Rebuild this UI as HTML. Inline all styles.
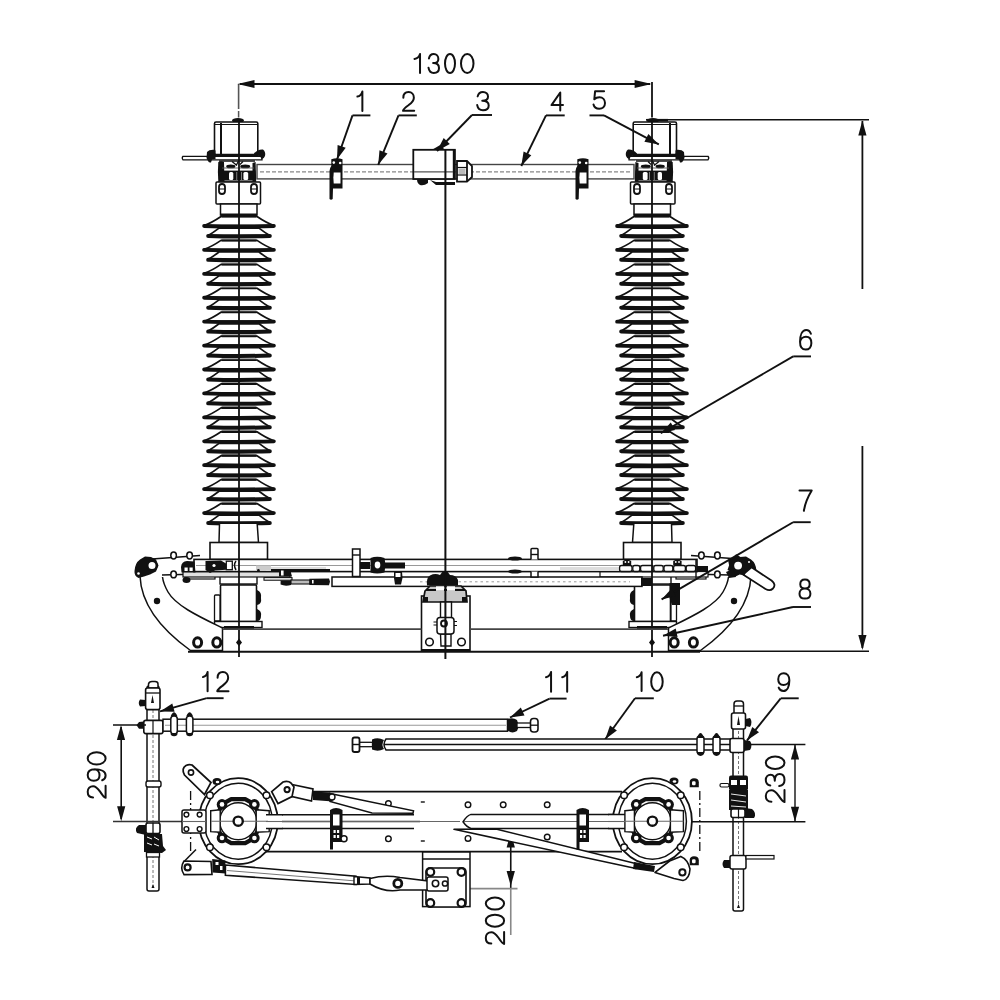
<!DOCTYPE html>
<html><head><meta charset="utf-8"><style>
html,body{margin:0;padding:0;background:#fff;overflow:hidden;}
svg{display:block;}
text{font-family:"Liberation Sans",sans-serif;fill:#111;stroke:#fff;stroke-width:0.6px;}
</style></head><body>
<svg width="1000" height="1000" viewBox="0 0 1000 1000">
<rect width="1000" height="1000" fill="#fff"/>
<g><ellipse cx="238" cy="120.5" rx="6" ry="2.5" fill="#111"/><rect x="214.5" y="122" width="43.3" height="32.5" rx="1.5" fill="#fff" stroke="#111" stroke-width="1.6"/><line x1="221" y1="123" x2="221" y2="154" stroke="#111" stroke-width="2"/><line x1="215" y1="124.5" x2="257" y2="124.5" stroke="#111" stroke-width="1"/><path d="M183,156.3 L262,156.3 L262,159.8 L183,159.8 Q181.5,158 183,156.3 Z" fill="#fff" stroke="#111" stroke-width="1.3"/><line x1="214" y1="156" x2="258" y2="156" stroke="#111" stroke-width="2"/><path d="M207,152 Q209,149.5 214,149.8 L215.5,150.5 L215.5,159 L212,159.5 L211,162.5 Q209,163 208,161 L206.5,158 Z" fill="#111"/><path d="M254,153.5 Q258,149 263,149.5 Q266,152 265,156 Q263.5,159.5 261.5,159 L260,156 L254,155.8 Z" fill="#111"/><rect x="218.8" y="160.5" width="36.8" height="21" fill="#fff"/><line x1="219" y1="161" x2="255" y2="161" stroke="#111" stroke-width="1.3"/><path d="M218.3,162 Q221,160.5 224,162 L224.5,181.5 L218.3,181.5 Q217.5,172 218.3,162 Z" fill="#111"/><path d="M252.5,163 L255.6,162 L256.2,181.5 L252.5,181.5 Z" fill="#111"/><rect x="220" y="170.6" width="35.5" height="10" fill="#111"/><rect x="229" y="172" width="4.3" height="8" rx="1.5" fill="#fff"/><rect x="243.4" y="172" width="4.8" height="8" rx="1.5" fill="#fff"/><rect x="236.3" y="172" width="0.9" height="8" fill="#888"/><rect x="241.0" y="172" width="0.9" height="8" fill="#888"/><ellipse cx="230.8" cy="166.4" rx="4.6" ry="1.9" fill="#111"/><ellipse cx="245.2" cy="166.4" rx="5.0" ry="1.9" fill="#111"/><path d="M232,161.5 L237,165.5 M238.5,161 L236,165.8 M243,161.5 L240,164.5" stroke="#111" stroke-width="1.3" fill="none"/><line x1="222" y1="168" x2="254" y2="168" stroke="#555" stroke-width="0.9"/><line x1="218" y1="182" x2="256" y2="182" stroke="#111" stroke-width="1.4"/><rect x="216" y="182" width="44.5" height="22" rx="1" fill="#fff" stroke="#111" stroke-width="1.5"/><rect x="219" y="184" width="6" height="10" rx="3" fill="#fff" stroke="#111" stroke-width="1.8"/><line x1="219" y1="189" x2="225" y2="189" stroke="#111" stroke-width="1"/><rect x="251" y="184" width="6" height="10" rx="3" fill="#fff" stroke="#111" stroke-width="1.8"/><line x1="251" y1="189" x2="257" y2="189" stroke="#111" stroke-width="1"/><rect x="220.5" y="204" width="36.5" height="11" fill="#fff" stroke="#111" stroke-width="1.5"/><rect x="220.5" y="213.5" width="36.5" height="2.5" fill="#111"/><path d="M221.00,216.50 L257.00,216.50 Q266.30,222.80 273.90,225.50 L204.10,225.50 Q211.71,222.80 221.00,216.50 Z" fill="#fff" stroke="#111" stroke-width="1.7" stroke-linejoin="round"/><path d="M204.10,226.00 Q239.00,227.00 273.90,226.00" fill="none" stroke="#111" stroke-width="3.8" stroke-linecap="round"/><line x1="221.50" y1="216.90" x2="256.50" y2="216.90" stroke="#111" stroke-width="1.4"/><path d="M219.00,228.10 L259.00,228.10 Q264.94,232.70 269.80,235.40 L208.20,235.40 Q213.06,232.70 219.00,228.10 Z" fill="#fff" stroke="#111" stroke-width="1.7" stroke-linejoin="round"/><path d="M208.20,235.90 Q239.00,236.90 269.80,235.90" fill="none" stroke="#111" stroke-width="4.0" stroke-linecap="round"/><line x1="221.50" y1="239.20" x2="256.50" y2="239.20" stroke="#777" stroke-width="1"/><path d="M221.00,240.42 L257.00,240.42 Q266.30,246.72 273.90,249.42 L204.10,249.42 Q211.71,246.72 221.00,240.42 Z" fill="#fff" stroke="#111" stroke-width="1.7" stroke-linejoin="round"/><path d="M204.10,249.92 Q239.00,250.92 273.90,249.92" fill="none" stroke="#111" stroke-width="3.8" stroke-linecap="round"/><line x1="221.50" y1="240.82" x2="256.50" y2="240.82" stroke="#111" stroke-width="1.4"/><path d="M219.00,252.02 L259.00,252.02 Q264.94,256.62 269.80,259.32 L208.20,259.32 Q213.06,256.62 219.00,252.02 Z" fill="#fff" stroke="#111" stroke-width="1.7" stroke-linejoin="round"/><path d="M208.20,259.82 Q239.00,260.82 269.80,259.82" fill="none" stroke="#111" stroke-width="4.0" stroke-linecap="round"/><line x1="221.50" y1="263.12" x2="256.50" y2="263.12" stroke="#777" stroke-width="1"/><path d="M221.00,264.34 L257.00,264.34 Q266.30,270.64 273.90,273.34 L204.10,273.34 Q211.71,270.64 221.00,264.34 Z" fill="#fff" stroke="#111" stroke-width="1.7" stroke-linejoin="round"/><path d="M204.10,273.84 Q239.00,274.84 273.90,273.84" fill="none" stroke="#111" stroke-width="3.8" stroke-linecap="round"/><line x1="221.50" y1="264.74" x2="256.50" y2="264.74" stroke="#111" stroke-width="1.4"/><path d="M219.00,275.94 L259.00,275.94 Q264.94,280.54 269.80,283.24 L208.20,283.24 Q213.06,280.54 219.00,275.94 Z" fill="#fff" stroke="#111" stroke-width="1.7" stroke-linejoin="round"/><path d="M208.20,283.74 Q239.00,284.74 269.80,283.74" fill="none" stroke="#111" stroke-width="4.0" stroke-linecap="round"/><line x1="221.50" y1="287.04" x2="256.50" y2="287.04" stroke="#777" stroke-width="1"/><path d="M221.00,288.26 L257.00,288.26 Q266.30,294.56 273.90,297.26 L204.10,297.26 Q211.71,294.56 221.00,288.26 Z" fill="#fff" stroke="#111" stroke-width="1.7" stroke-linejoin="round"/><path d="M204.10,297.76 Q239.00,298.76 273.90,297.76" fill="none" stroke="#111" stroke-width="3.8" stroke-linecap="round"/><line x1="221.50" y1="288.66" x2="256.50" y2="288.66" stroke="#111" stroke-width="1.4"/><path d="M219.00,299.86 L259.00,299.86 Q264.94,304.46 269.80,307.16 L208.20,307.16 Q213.06,304.46 219.00,299.86 Z" fill="#fff" stroke="#111" stroke-width="1.7" stroke-linejoin="round"/><path d="M208.20,307.66 Q239.00,308.66 269.80,307.66" fill="none" stroke="#111" stroke-width="4.0" stroke-linecap="round"/><line x1="221.50" y1="310.96" x2="256.50" y2="310.96" stroke="#777" stroke-width="1"/><path d="M221.00,312.18 L257.00,312.18 Q266.30,318.48 273.90,321.18 L204.10,321.18 Q211.71,318.48 221.00,312.18 Z" fill="#fff" stroke="#111" stroke-width="1.7" stroke-linejoin="round"/><path d="M204.10,321.68 Q239.00,322.68 273.90,321.68" fill="none" stroke="#111" stroke-width="3.8" stroke-linecap="round"/><line x1="221.50" y1="312.58" x2="256.50" y2="312.58" stroke="#111" stroke-width="1.4"/><path d="M219.00,323.78 L259.00,323.78 Q264.94,328.38 269.80,331.08 L208.20,331.08 Q213.06,328.38 219.00,323.78 Z" fill="#fff" stroke="#111" stroke-width="1.7" stroke-linejoin="round"/><path d="M208.20,331.58 Q239.00,332.58 269.80,331.58" fill="none" stroke="#111" stroke-width="4.0" stroke-linecap="round"/><line x1="221.50" y1="334.88" x2="256.50" y2="334.88" stroke="#777" stroke-width="1"/><path d="M221.00,336.10 L257.00,336.10 Q266.30,342.40 273.90,345.10 L204.10,345.10 Q211.71,342.40 221.00,336.10 Z" fill="#fff" stroke="#111" stroke-width="1.7" stroke-linejoin="round"/><path d="M204.10,345.60 Q239.00,346.60 273.90,345.60" fill="none" stroke="#111" stroke-width="3.8" stroke-linecap="round"/><line x1="221.50" y1="336.50" x2="256.50" y2="336.50" stroke="#111" stroke-width="1.4"/><path d="M219.00,347.70 L259.00,347.70 Q264.94,352.30 269.80,355.00 L208.20,355.00 Q213.06,352.30 219.00,347.70 Z" fill="#fff" stroke="#111" stroke-width="1.7" stroke-linejoin="round"/><path d="M208.20,355.50 Q239.00,356.50 269.80,355.50" fill="none" stroke="#111" stroke-width="4.0" stroke-linecap="round"/><line x1="221.50" y1="358.80" x2="256.50" y2="358.80" stroke="#777" stroke-width="1"/><path d="M221.00,360.02 L257.00,360.02 Q266.30,366.32 273.90,369.02 L204.10,369.02 Q211.71,366.32 221.00,360.02 Z" fill="#fff" stroke="#111" stroke-width="1.7" stroke-linejoin="round"/><path d="M204.10,369.52 Q239.00,370.52 273.90,369.52" fill="none" stroke="#111" stroke-width="3.8" stroke-linecap="round"/><line x1="221.50" y1="360.42" x2="256.50" y2="360.42" stroke="#111" stroke-width="1.4"/><path d="M219.00,371.62 L259.00,371.62 Q264.94,376.22 269.80,378.92 L208.20,378.92 Q213.06,376.22 219.00,371.62 Z" fill="#fff" stroke="#111" stroke-width="1.7" stroke-linejoin="round"/><path d="M208.20,379.42 Q239.00,380.42 269.80,379.42" fill="none" stroke="#111" stroke-width="4.0" stroke-linecap="round"/><line x1="221.50" y1="382.72" x2="256.50" y2="382.72" stroke="#777" stroke-width="1"/><path d="M221.00,383.94 L257.00,383.94 Q266.30,390.24 273.90,392.94 L204.10,392.94 Q211.71,390.24 221.00,383.94 Z" fill="#fff" stroke="#111" stroke-width="1.7" stroke-linejoin="round"/><path d="M204.10,393.44 Q239.00,394.44 273.90,393.44" fill="none" stroke="#111" stroke-width="3.8" stroke-linecap="round"/><line x1="221.50" y1="384.34" x2="256.50" y2="384.34" stroke="#111" stroke-width="1.4"/><path d="M219.00,395.54 L259.00,395.54 Q264.94,400.14 269.80,402.84 L208.20,402.84 Q213.06,400.14 219.00,395.54 Z" fill="#fff" stroke="#111" stroke-width="1.7" stroke-linejoin="round"/><path d="M208.20,403.34 Q239.00,404.34 269.80,403.34" fill="none" stroke="#111" stroke-width="4.0" stroke-linecap="round"/><line x1="221.50" y1="406.64" x2="256.50" y2="406.64" stroke="#777" stroke-width="1"/><path d="M221.00,407.86 L257.00,407.86 Q266.30,414.16 273.90,416.86 L204.10,416.86 Q211.71,414.16 221.00,407.86 Z" fill="#fff" stroke="#111" stroke-width="1.7" stroke-linejoin="round"/><path d="M204.10,417.36 Q239.00,418.36 273.90,417.36" fill="none" stroke="#111" stroke-width="3.8" stroke-linecap="round"/><line x1="221.50" y1="408.26" x2="256.50" y2="408.26" stroke="#111" stroke-width="1.4"/><path d="M219.00,419.46 L259.00,419.46 Q264.94,424.06 269.80,426.76 L208.20,426.76 Q213.06,424.06 219.00,419.46 Z" fill="#fff" stroke="#111" stroke-width="1.7" stroke-linejoin="round"/><path d="M208.20,427.26 Q239.00,428.26 269.80,427.26" fill="none" stroke="#111" stroke-width="4.0" stroke-linecap="round"/><line x1="221.50" y1="430.56" x2="256.50" y2="430.56" stroke="#777" stroke-width="1"/><path d="M221.00,431.78 L257.00,431.78 Q266.30,438.08 273.90,440.78 L204.10,440.78 Q211.71,438.08 221.00,431.78 Z" fill="#fff" stroke="#111" stroke-width="1.7" stroke-linejoin="round"/><path d="M204.10,441.28 Q239.00,442.28 273.90,441.28" fill="none" stroke="#111" stroke-width="3.8" stroke-linecap="round"/><line x1="221.50" y1="432.18" x2="256.50" y2="432.18" stroke="#111" stroke-width="1.4"/><path d="M219.00,443.38 L259.00,443.38 Q264.94,447.98 269.80,450.68 L208.20,450.68 Q213.06,447.98 219.00,443.38 Z" fill="#fff" stroke="#111" stroke-width="1.7" stroke-linejoin="round"/><path d="M208.20,451.18 Q239.00,452.18 269.80,451.18" fill="none" stroke="#111" stroke-width="4.0" stroke-linecap="round"/><line x1="221.50" y1="454.48" x2="256.50" y2="454.48" stroke="#777" stroke-width="1"/><path d="M221.00,455.70 L257.00,455.70 Q266.30,462.00 273.90,464.70 L204.10,464.70 Q211.71,462.00 221.00,455.70 Z" fill="#fff" stroke="#111" stroke-width="1.7" stroke-linejoin="round"/><path d="M204.10,465.20 Q239.00,466.20 273.90,465.20" fill="none" stroke="#111" stroke-width="3.8" stroke-linecap="round"/><line x1="221.50" y1="456.10" x2="256.50" y2="456.10" stroke="#111" stroke-width="1.4"/><path d="M219.00,467.30 L259.00,467.30 Q264.94,471.90 269.80,474.60 L208.20,474.60 Q213.06,471.90 219.00,467.30 Z" fill="#fff" stroke="#111" stroke-width="1.7" stroke-linejoin="round"/><path d="M208.20,475.10 Q239.00,476.10 269.80,475.10" fill="none" stroke="#111" stroke-width="4.0" stroke-linecap="round"/><line x1="221.50" y1="478.40" x2="256.50" y2="478.40" stroke="#777" stroke-width="1"/><path d="M221.00,479.62 L257.00,479.62 Q266.30,485.92 273.90,488.62 L204.10,488.62 Q211.71,485.92 221.00,479.62 Z" fill="#fff" stroke="#111" stroke-width="1.7" stroke-linejoin="round"/><path d="M204.10,489.12 Q239.00,490.12 273.90,489.12" fill="none" stroke="#111" stroke-width="3.8" stroke-linecap="round"/><line x1="221.50" y1="480.02" x2="256.50" y2="480.02" stroke="#111" stroke-width="1.4"/><path d="M219.00,491.22 L259.00,491.22 Q264.94,495.82 269.80,498.52 L208.20,498.52 Q213.06,495.82 219.00,491.22 Z" fill="#fff" stroke="#111" stroke-width="1.7" stroke-linejoin="round"/><path d="M208.20,499.02 Q239.00,500.02 269.80,499.02" fill="none" stroke="#111" stroke-width="4.0" stroke-linecap="round"/><line x1="221.50" y1="502.32" x2="256.50" y2="502.32" stroke="#777" stroke-width="1"/><path d="M221.00,503.54 L257.00,503.54 Q266.30,509.84 273.90,512.54 L204.10,512.54 Q211.71,509.84 221.00,503.54 Z" fill="#fff" stroke="#111" stroke-width="1.7" stroke-linejoin="round"/><path d="M204.10,513.04 Q239.00,514.04 273.90,513.04" fill="none" stroke="#111" stroke-width="3.8" stroke-linecap="round"/><line x1="221.50" y1="503.94" x2="256.50" y2="503.94" stroke="#111" stroke-width="1.4"/><path d="M219.00,515.14 L259.00,515.14 Q264.94,519.74 269.80,522.44 L208.20,522.44 Q213.06,519.74 219.00,515.14 Z" fill="#fff" stroke="#111" stroke-width="1.7" stroke-linejoin="round"/><path d="M208.20,522.94 Q239.00,523.94 269.80,522.94" fill="none" stroke="#111" stroke-width="4.0" stroke-linecap="round"/><line x1="221.50" y1="526.24" x2="256.50" y2="526.24" stroke="#777" stroke-width="1"/><path d="M219.5,524 L219,542.5 L258.5,542.5 L257.2,524" fill="#fff" stroke="#111" stroke-width="1.5"/><rect x="210" y="542.5" width="57.5" height="17" fill="#fff" stroke="#111" stroke-width="1.6"/><rect x="220" y="576" width="37" height="8" fill="#fff" stroke="#111" stroke-width="1.4"/><rect x="220.5" y="585" width="36" height="36.5" rx="1" fill="#fff" stroke="#111" stroke-width="1.6"/><rect x="214.5" y="595" width="5.5" height="26" rx="1" fill="#fff" stroke="#111" stroke-width="1.3"/><path d="M257,590 Q262,592 261,598 Q262,604 257,605 Z M257,609 Q262,611 261,616 Q261,621 257,621 Z" fill="#111"/><rect x="214.5" y="621.5" width="47.5" height="6" fill="#fff" stroke="#111" stroke-width="1.4"/><rect x="224" y="626" width="30" height="3" fill="#111"/><path d="M140,576 C141,600 155,625 190.5,650.5 L222.5,650.5 L222.5,628 C200,617 176,606 168,592 C164,585 163,581 162.5,577" fill="#fff" stroke="#111" stroke-width="1.5"/><path d="M134.5,571 Q135,563 140,559.5 L145,556.5 L151,557 L156,559.5 L158.5,565.5 L156,571.5 L150,574.5 L144,576.5 L138.5,578 Q134,576 134.5,571 Z" fill="#111"/><circle cx="152" cy="565.6" r="4.6" fill="#fff" stroke="#111" stroke-width="2.2"/><circle cx="138.5" cy="573.5" r="1.3" fill="#fff"/><circle cx="157" cy="601" r="3.2" fill="#111"/><ellipse cx="197.6" cy="642.4" rx="4.0" ry="4.6" fill="#fff" stroke="#111" stroke-width="3"/><ellipse cx="216.8" cy="642.4" rx="4.0" ry="4.6" fill="#fff" stroke="#111" stroke-width="3"/><path d="M152,559 L200,555.5 M162,575 L200,574" stroke="#111" stroke-width="1.3" fill="none"/><ellipse cx="173.6" cy="555.5" rx="2.8" ry="3.4" fill="#fff" stroke="#111" stroke-width="1.5"/><ellipse cx="189.6" cy="555.5" rx="2.8" ry="3.4" fill="#fff" stroke="#111" stroke-width="1.5"/><ellipse cx="173.6" cy="574.4" rx="2.8" ry="3.4" fill="#fff" stroke="#111" stroke-width="1.5"/><ellipse cx="189.6" cy="574.4" rx="2.8" ry="3.4" fill="#fff" stroke="#111" stroke-width="1.5"/><path d="M183,566 L228,566 L228,573 L183,573 Z" fill="#111"/><rect x="185" y="575" width="30" height="4" fill="#fff" stroke="#111" stroke-width="1.2"/></g><g transform="translate(891,0) scale(-1,1)"><ellipse cx="238" cy="120.5" rx="6" ry="2.5" fill="#111"/><rect x="214.5" y="122" width="43.3" height="32.5" rx="1.5" fill="#fff" stroke="#111" stroke-width="1.6"/><line x1="221" y1="123" x2="221" y2="154" stroke="#111" stroke-width="2"/><line x1="215" y1="124.5" x2="257" y2="124.5" stroke="#111" stroke-width="1"/><path d="M183,156.3 L262,156.3 L262,159.8 L183,159.8 Q181.5,158 183,156.3 Z" fill="#fff" stroke="#111" stroke-width="1.3"/><line x1="214" y1="156" x2="258" y2="156" stroke="#111" stroke-width="2"/><path d="M207,152 Q209,149.5 214,149.8 L215.5,150.5 L215.5,159 L212,159.5 L211,162.5 Q209,163 208,161 L206.5,158 Z" fill="#111"/><path d="M254,153.5 Q258,149 263,149.5 Q266,152 265,156 Q263.5,159.5 261.5,159 L260,156 L254,155.8 Z" fill="#111"/><rect x="218.8" y="160.5" width="36.8" height="21" fill="#fff"/><line x1="219" y1="161" x2="255" y2="161" stroke="#111" stroke-width="1.3"/><path d="M218.3,162 Q221,160.5 224,162 L224.5,181.5 L218.3,181.5 Q217.5,172 218.3,162 Z" fill="#111"/><path d="M252.5,163 L255.6,162 L256.2,181.5 L252.5,181.5 Z" fill="#111"/><rect x="220" y="170.6" width="35.5" height="10" fill="#111"/><rect x="229" y="172" width="4.3" height="8" rx="1.5" fill="#fff"/><rect x="243.4" y="172" width="4.8" height="8" rx="1.5" fill="#fff"/><rect x="236.3" y="172" width="0.9" height="8" fill="#888"/><rect x="241.0" y="172" width="0.9" height="8" fill="#888"/><ellipse cx="230.8" cy="166.4" rx="4.6" ry="1.9" fill="#111"/><ellipse cx="245.2" cy="166.4" rx="5.0" ry="1.9" fill="#111"/><path d="M232,161.5 L237,165.5 M238.5,161 L236,165.8 M243,161.5 L240,164.5" stroke="#111" stroke-width="1.3" fill="none"/><line x1="222" y1="168" x2="254" y2="168" stroke="#555" stroke-width="0.9"/><line x1="218" y1="182" x2="256" y2="182" stroke="#111" stroke-width="1.4"/><rect x="216" y="182" width="44.5" height="22" rx="1" fill="#fff" stroke="#111" stroke-width="1.5"/><rect x="219" y="184" width="6" height="10" rx="3" fill="#fff" stroke="#111" stroke-width="1.8"/><line x1="219" y1="189" x2="225" y2="189" stroke="#111" stroke-width="1"/><rect x="251" y="184" width="6" height="10" rx="3" fill="#fff" stroke="#111" stroke-width="1.8"/><line x1="251" y1="189" x2="257" y2="189" stroke="#111" stroke-width="1"/><rect x="220.5" y="204" width="36.5" height="11" fill="#fff" stroke="#111" stroke-width="1.5"/><rect x="220.5" y="213.5" width="36.5" height="2.5" fill="#111"/><path d="M221.00,216.50 L257.00,216.50 Q266.30,222.80 273.90,225.50 L204.10,225.50 Q211.71,222.80 221.00,216.50 Z" fill="#fff" stroke="#111" stroke-width="1.7" stroke-linejoin="round"/><path d="M204.10,226.00 Q239.00,227.00 273.90,226.00" fill="none" stroke="#111" stroke-width="3.8" stroke-linecap="round"/><line x1="221.50" y1="216.90" x2="256.50" y2="216.90" stroke="#111" stroke-width="1.4"/><path d="M219.00,228.10 L259.00,228.10 Q264.94,232.70 269.80,235.40 L208.20,235.40 Q213.06,232.70 219.00,228.10 Z" fill="#fff" stroke="#111" stroke-width="1.7" stroke-linejoin="round"/><path d="M208.20,235.90 Q239.00,236.90 269.80,235.90" fill="none" stroke="#111" stroke-width="4.0" stroke-linecap="round"/><line x1="221.50" y1="239.20" x2="256.50" y2="239.20" stroke="#777" stroke-width="1"/><path d="M221.00,240.42 L257.00,240.42 Q266.30,246.72 273.90,249.42 L204.10,249.42 Q211.71,246.72 221.00,240.42 Z" fill="#fff" stroke="#111" stroke-width="1.7" stroke-linejoin="round"/><path d="M204.10,249.92 Q239.00,250.92 273.90,249.92" fill="none" stroke="#111" stroke-width="3.8" stroke-linecap="round"/><line x1="221.50" y1="240.82" x2="256.50" y2="240.82" stroke="#111" stroke-width="1.4"/><path d="M219.00,252.02 L259.00,252.02 Q264.94,256.62 269.80,259.32 L208.20,259.32 Q213.06,256.62 219.00,252.02 Z" fill="#fff" stroke="#111" stroke-width="1.7" stroke-linejoin="round"/><path d="M208.20,259.82 Q239.00,260.82 269.80,259.82" fill="none" stroke="#111" stroke-width="4.0" stroke-linecap="round"/><line x1="221.50" y1="263.12" x2="256.50" y2="263.12" stroke="#777" stroke-width="1"/><path d="M221.00,264.34 L257.00,264.34 Q266.30,270.64 273.90,273.34 L204.10,273.34 Q211.71,270.64 221.00,264.34 Z" fill="#fff" stroke="#111" stroke-width="1.7" stroke-linejoin="round"/><path d="M204.10,273.84 Q239.00,274.84 273.90,273.84" fill="none" stroke="#111" stroke-width="3.8" stroke-linecap="round"/><line x1="221.50" y1="264.74" x2="256.50" y2="264.74" stroke="#111" stroke-width="1.4"/><path d="M219.00,275.94 L259.00,275.94 Q264.94,280.54 269.80,283.24 L208.20,283.24 Q213.06,280.54 219.00,275.94 Z" fill="#fff" stroke="#111" stroke-width="1.7" stroke-linejoin="round"/><path d="M208.20,283.74 Q239.00,284.74 269.80,283.74" fill="none" stroke="#111" stroke-width="4.0" stroke-linecap="round"/><line x1="221.50" y1="287.04" x2="256.50" y2="287.04" stroke="#777" stroke-width="1"/><path d="M221.00,288.26 L257.00,288.26 Q266.30,294.56 273.90,297.26 L204.10,297.26 Q211.71,294.56 221.00,288.26 Z" fill="#fff" stroke="#111" stroke-width="1.7" stroke-linejoin="round"/><path d="M204.10,297.76 Q239.00,298.76 273.90,297.76" fill="none" stroke="#111" stroke-width="3.8" stroke-linecap="round"/><line x1="221.50" y1="288.66" x2="256.50" y2="288.66" stroke="#111" stroke-width="1.4"/><path d="M219.00,299.86 L259.00,299.86 Q264.94,304.46 269.80,307.16 L208.20,307.16 Q213.06,304.46 219.00,299.86 Z" fill="#fff" stroke="#111" stroke-width="1.7" stroke-linejoin="round"/><path d="M208.20,307.66 Q239.00,308.66 269.80,307.66" fill="none" stroke="#111" stroke-width="4.0" stroke-linecap="round"/><line x1="221.50" y1="310.96" x2="256.50" y2="310.96" stroke="#777" stroke-width="1"/><path d="M221.00,312.18 L257.00,312.18 Q266.30,318.48 273.90,321.18 L204.10,321.18 Q211.71,318.48 221.00,312.18 Z" fill="#fff" stroke="#111" stroke-width="1.7" stroke-linejoin="round"/><path d="M204.10,321.68 Q239.00,322.68 273.90,321.68" fill="none" stroke="#111" stroke-width="3.8" stroke-linecap="round"/><line x1="221.50" y1="312.58" x2="256.50" y2="312.58" stroke="#111" stroke-width="1.4"/><path d="M219.00,323.78 L259.00,323.78 Q264.94,328.38 269.80,331.08 L208.20,331.08 Q213.06,328.38 219.00,323.78 Z" fill="#fff" stroke="#111" stroke-width="1.7" stroke-linejoin="round"/><path d="M208.20,331.58 Q239.00,332.58 269.80,331.58" fill="none" stroke="#111" stroke-width="4.0" stroke-linecap="round"/><line x1="221.50" y1="334.88" x2="256.50" y2="334.88" stroke="#777" stroke-width="1"/><path d="M221.00,336.10 L257.00,336.10 Q266.30,342.40 273.90,345.10 L204.10,345.10 Q211.71,342.40 221.00,336.10 Z" fill="#fff" stroke="#111" stroke-width="1.7" stroke-linejoin="round"/><path d="M204.10,345.60 Q239.00,346.60 273.90,345.60" fill="none" stroke="#111" stroke-width="3.8" stroke-linecap="round"/><line x1="221.50" y1="336.50" x2="256.50" y2="336.50" stroke="#111" stroke-width="1.4"/><path d="M219.00,347.70 L259.00,347.70 Q264.94,352.30 269.80,355.00 L208.20,355.00 Q213.06,352.30 219.00,347.70 Z" fill="#fff" stroke="#111" stroke-width="1.7" stroke-linejoin="round"/><path d="M208.20,355.50 Q239.00,356.50 269.80,355.50" fill="none" stroke="#111" stroke-width="4.0" stroke-linecap="round"/><line x1="221.50" y1="358.80" x2="256.50" y2="358.80" stroke="#777" stroke-width="1"/><path d="M221.00,360.02 L257.00,360.02 Q266.30,366.32 273.90,369.02 L204.10,369.02 Q211.71,366.32 221.00,360.02 Z" fill="#fff" stroke="#111" stroke-width="1.7" stroke-linejoin="round"/><path d="M204.10,369.52 Q239.00,370.52 273.90,369.52" fill="none" stroke="#111" stroke-width="3.8" stroke-linecap="round"/><line x1="221.50" y1="360.42" x2="256.50" y2="360.42" stroke="#111" stroke-width="1.4"/><path d="M219.00,371.62 L259.00,371.62 Q264.94,376.22 269.80,378.92 L208.20,378.92 Q213.06,376.22 219.00,371.62 Z" fill="#fff" stroke="#111" stroke-width="1.7" stroke-linejoin="round"/><path d="M208.20,379.42 Q239.00,380.42 269.80,379.42" fill="none" stroke="#111" stroke-width="4.0" stroke-linecap="round"/><line x1="221.50" y1="382.72" x2="256.50" y2="382.72" stroke="#777" stroke-width="1"/><path d="M221.00,383.94 L257.00,383.94 Q266.30,390.24 273.90,392.94 L204.10,392.94 Q211.71,390.24 221.00,383.94 Z" fill="#fff" stroke="#111" stroke-width="1.7" stroke-linejoin="round"/><path d="M204.10,393.44 Q239.00,394.44 273.90,393.44" fill="none" stroke="#111" stroke-width="3.8" stroke-linecap="round"/><line x1="221.50" y1="384.34" x2="256.50" y2="384.34" stroke="#111" stroke-width="1.4"/><path d="M219.00,395.54 L259.00,395.54 Q264.94,400.14 269.80,402.84 L208.20,402.84 Q213.06,400.14 219.00,395.54 Z" fill="#fff" stroke="#111" stroke-width="1.7" stroke-linejoin="round"/><path d="M208.20,403.34 Q239.00,404.34 269.80,403.34" fill="none" stroke="#111" stroke-width="4.0" stroke-linecap="round"/><line x1="221.50" y1="406.64" x2="256.50" y2="406.64" stroke="#777" stroke-width="1"/><path d="M221.00,407.86 L257.00,407.86 Q266.30,414.16 273.90,416.86 L204.10,416.86 Q211.71,414.16 221.00,407.86 Z" fill="#fff" stroke="#111" stroke-width="1.7" stroke-linejoin="round"/><path d="M204.10,417.36 Q239.00,418.36 273.90,417.36" fill="none" stroke="#111" stroke-width="3.8" stroke-linecap="round"/><line x1="221.50" y1="408.26" x2="256.50" y2="408.26" stroke="#111" stroke-width="1.4"/><path d="M219.00,419.46 L259.00,419.46 Q264.94,424.06 269.80,426.76 L208.20,426.76 Q213.06,424.06 219.00,419.46 Z" fill="#fff" stroke="#111" stroke-width="1.7" stroke-linejoin="round"/><path d="M208.20,427.26 Q239.00,428.26 269.80,427.26" fill="none" stroke="#111" stroke-width="4.0" stroke-linecap="round"/><line x1="221.50" y1="430.56" x2="256.50" y2="430.56" stroke="#777" stroke-width="1"/><path d="M221.00,431.78 L257.00,431.78 Q266.30,438.08 273.90,440.78 L204.10,440.78 Q211.71,438.08 221.00,431.78 Z" fill="#fff" stroke="#111" stroke-width="1.7" stroke-linejoin="round"/><path d="M204.10,441.28 Q239.00,442.28 273.90,441.28" fill="none" stroke="#111" stroke-width="3.8" stroke-linecap="round"/><line x1="221.50" y1="432.18" x2="256.50" y2="432.18" stroke="#111" stroke-width="1.4"/><path d="M219.00,443.38 L259.00,443.38 Q264.94,447.98 269.80,450.68 L208.20,450.68 Q213.06,447.98 219.00,443.38 Z" fill="#fff" stroke="#111" stroke-width="1.7" stroke-linejoin="round"/><path d="M208.20,451.18 Q239.00,452.18 269.80,451.18" fill="none" stroke="#111" stroke-width="4.0" stroke-linecap="round"/><line x1="221.50" y1="454.48" x2="256.50" y2="454.48" stroke="#777" stroke-width="1"/><path d="M221.00,455.70 L257.00,455.70 Q266.30,462.00 273.90,464.70 L204.10,464.70 Q211.71,462.00 221.00,455.70 Z" fill="#fff" stroke="#111" stroke-width="1.7" stroke-linejoin="round"/><path d="M204.10,465.20 Q239.00,466.20 273.90,465.20" fill="none" stroke="#111" stroke-width="3.8" stroke-linecap="round"/><line x1="221.50" y1="456.10" x2="256.50" y2="456.10" stroke="#111" stroke-width="1.4"/><path d="M219.00,467.30 L259.00,467.30 Q264.94,471.90 269.80,474.60 L208.20,474.60 Q213.06,471.90 219.00,467.30 Z" fill="#fff" stroke="#111" stroke-width="1.7" stroke-linejoin="round"/><path d="M208.20,475.10 Q239.00,476.10 269.80,475.10" fill="none" stroke="#111" stroke-width="4.0" stroke-linecap="round"/><line x1="221.50" y1="478.40" x2="256.50" y2="478.40" stroke="#777" stroke-width="1"/><path d="M221.00,479.62 L257.00,479.62 Q266.30,485.92 273.90,488.62 L204.10,488.62 Q211.71,485.92 221.00,479.62 Z" fill="#fff" stroke="#111" stroke-width="1.7" stroke-linejoin="round"/><path d="M204.10,489.12 Q239.00,490.12 273.90,489.12" fill="none" stroke="#111" stroke-width="3.8" stroke-linecap="round"/><line x1="221.50" y1="480.02" x2="256.50" y2="480.02" stroke="#111" stroke-width="1.4"/><path d="M219.00,491.22 L259.00,491.22 Q264.94,495.82 269.80,498.52 L208.20,498.52 Q213.06,495.82 219.00,491.22 Z" fill="#fff" stroke="#111" stroke-width="1.7" stroke-linejoin="round"/><path d="M208.20,499.02 Q239.00,500.02 269.80,499.02" fill="none" stroke="#111" stroke-width="4.0" stroke-linecap="round"/><line x1="221.50" y1="502.32" x2="256.50" y2="502.32" stroke="#777" stroke-width="1"/><path d="M221.00,503.54 L257.00,503.54 Q266.30,509.84 273.90,512.54 L204.10,512.54 Q211.71,509.84 221.00,503.54 Z" fill="#fff" stroke="#111" stroke-width="1.7" stroke-linejoin="round"/><path d="M204.10,513.04 Q239.00,514.04 273.90,513.04" fill="none" stroke="#111" stroke-width="3.8" stroke-linecap="round"/><line x1="221.50" y1="503.94" x2="256.50" y2="503.94" stroke="#111" stroke-width="1.4"/><path d="M219.00,515.14 L259.00,515.14 Q264.94,519.74 269.80,522.44 L208.20,522.44 Q213.06,519.74 219.00,515.14 Z" fill="#fff" stroke="#111" stroke-width="1.7" stroke-linejoin="round"/><path d="M208.20,522.94 Q239.00,523.94 269.80,522.94" fill="none" stroke="#111" stroke-width="4.0" stroke-linecap="round"/><line x1="221.50" y1="526.24" x2="256.50" y2="526.24" stroke="#777" stroke-width="1"/><path d="M219.5,524 L219,542.5 L258.5,542.5 L257.2,524" fill="#fff" stroke="#111" stroke-width="1.5"/><rect x="210" y="542.5" width="57.5" height="17" fill="#fff" stroke="#111" stroke-width="1.6"/><rect x="220" y="576" width="37" height="8" fill="#fff" stroke="#111" stroke-width="1.4"/><rect x="220.5" y="585" width="36" height="36.5" rx="1" fill="#fff" stroke="#111" stroke-width="1.6"/><rect x="214.5" y="595" width="5.5" height="26" rx="1" fill="#fff" stroke="#111" stroke-width="1.3"/><path d="M257,590 Q262,592 261,598 Q262,604 257,605 Z M257,609 Q262,611 261,616 Q261,621 257,621 Z" fill="#111"/><rect x="214.5" y="621.5" width="47.5" height="6" fill="#fff" stroke="#111" stroke-width="1.4"/><rect x="224" y="626" width="30" height="3" fill="#111"/><path d="M140,576 C141,600 155,625 190.5,650.5 L222.5,650.5 L222.5,628 C200,617 176,606 168,592 C164,585 163,581 162.5,577" fill="#fff" stroke="#111" stroke-width="1.5"/><path d="M134.5,571 Q135,563 140,559.5 L145,556.5 L151,557 L156,559.5 L158.5,565.5 L156,571.5 L150,574.5 L144,576.5 L138.5,578 Q134,576 134.5,571 Z" fill="#111"/><circle cx="152" cy="565.6" r="4.6" fill="#fff" stroke="#111" stroke-width="2.2"/><circle cx="138.5" cy="573.5" r="1.3" fill="#fff"/><circle cx="157" cy="601" r="3.2" fill="#111"/><ellipse cx="197.6" cy="642.4" rx="4.0" ry="4.6" fill="#fff" stroke="#111" stroke-width="3"/><ellipse cx="216.8" cy="642.4" rx="4.0" ry="4.6" fill="#fff" stroke="#111" stroke-width="3"/><path d="M152,559 L200,555.5 M162,575 L200,574" stroke="#111" stroke-width="1.3" fill="none"/><ellipse cx="173.6" cy="555.5" rx="2.8" ry="3.4" fill="#fff" stroke="#111" stroke-width="1.5"/><ellipse cx="189.6" cy="555.5" rx="2.8" ry="3.4" fill="#fff" stroke="#111" stroke-width="1.5"/><ellipse cx="173.6" cy="574.4" rx="2.8" ry="3.4" fill="#fff" stroke="#111" stroke-width="1.5"/><ellipse cx="189.6" cy="574.4" rx="2.8" ry="3.4" fill="#fff" stroke="#111" stroke-width="1.5"/><path d="M183,566 L228,566 L228,573 L183,573 Z" fill="#111"/><rect x="185" y="575" width="30" height="4" fill="#fff" stroke="#111" stroke-width="1.2"/></g><line x1="238.6" y1="84" x2="238.6" y2="109" stroke="#555" stroke-width="1.6" /><line x1="238.6" y1="111" x2="238.6" y2="117.5" stroke="#555" stroke-width="1.5" /><line x1="652" y1="82" x2="652" y2="117.5" stroke="#111" stroke-width="1.8" /><rect x="257" y="164.5" width="377" height="14.4" fill="#fff" stroke="#444" stroke-width="1.4"/><line x1="260" y1="171.9" x2="632" y2="171.9" stroke="#888" stroke-width="1.1" stroke-dasharray="4,2"/><rect x="413.3" y="149.8" width="41.6" height="29.2" fill="#fff" stroke="#111" stroke-width="1.8"/><line x1="454" y1="150" x2="454" y2="179" stroke="#111" stroke-width="2.4" /><line x1="414" y1="171.9" x2="453" y2="171.9" stroke="#555" stroke-width="1.2" /><path d="M417,179.5 L428,179.5 L428,183 Q424,186 420,185 Q417,183 417,179.5 Z" fill="#111"/><path d="M430,180 L436,182 L455,182 L455,185 L436,185 Z" fill="#111"/><path d="M442,144 L444,149.8 L432,149.8 Z" fill="#111"/><path d="M457,161 L467,161 L472,166 L472,177 L467,181.6 L457,181.6 Z" fill="#fff" stroke="#111" stroke-width="1.8"/><line x1="467" y1="161" x2="467" y2="181.6" stroke="#111" stroke-width="1.8" /><line x1="457" y1="167.5" x2="467" y2="167.5" stroke="#111" stroke-width="1.2" /><line x1="457" y1="175" x2="467" y2="175" stroke="#111" stroke-width="1.2" /><rect x="458.5" y="168.5" width="7" height="5.5" fill="#bbb"/><path d="M331.3,159.3 Q337.0,157.2 342.5,159.3 L342.5,188.5 L333.0,188.5 L332.7,199 Q331.0,200.5 329.5,199 L329.5,171 Q330.0,167.5 331.3,166 Z" fill="#111"/><path d="M333.7,172.5 L340.5,172.5 L340.5,183.6 L333.7,183.6 Q333.0,178 333.7,172.5 Z" fill="#fff"/><circle cx="333.8" cy="162.6" r="1.3" fill="#fff"/><circle cx="340.2" cy="163" r="1.3" fill="#fff"/><path d="M577.3,159.3 Q583.0,157.2 588.5,159.3 L588.5,188.5 L579.0,188.5 L578.7,199 Q577.0,200.5 575.5,199 L575.5,171 Q576.0,167.5 577.3,166 Z" fill="#111"/><path d="M579.7,172.5 L586.5,172.5 L586.5,183.6 L579.7,183.6 Q579.0,178 579.7,172.5 Z" fill="#fff"/><circle cx="579.8" cy="162.6" r="1.3" fill="#fff"/><circle cx="586.2" cy="163" r="1.3" fill="#fff"/><rect x="183" y="571.5" width="107" height="5.5" fill="#e0e0e0" stroke="#111" stroke-width="1.2"/><rect x="600" y="571.5" width="108" height="5.5" fill="#fff" stroke="#111" stroke-width="1.2"/><rect x="194" y="559.4" width="503" height="12.2" fill="#fff" stroke="#111" stroke-width="1.6"/><line x1="196" y1="565.5" x2="695" y2="565.5" stroke="#999" stroke-width="1" /><rect x="266" y="567" width="60" height="4" fill="#ddd"/><rect x="560" y="567" width="60" height="4" fill="#ddd"/><rect x="332" y="577" width="310" height="9.4" fill="#fff" stroke="#111" stroke-width="1.5"/><line x1="420" y1="581.8" x2="630" y2="581.8" stroke="#999" stroke-width="1" stroke-dasharray="2.5,3"/><rect x="256" y="565.5" width="15" height="5" fill="#ccc"/><circle cx="258.4" cy="570.2" r="1.3" fill="#111"/><line x1="271" y1="570.2" x2="330" y2="570.2" stroke="#111" stroke-width="2.2" /><path d="M279,569 L290,569 L292,576.6 L279,576.6 Z" fill="#111"/><rect x="281" y="570.5" width="2.6" height="5" fill="#fff"/><rect x="264" y="577.6" width="28" height="2.6" fill="#fff" stroke="#111" stroke-width="1.1"/><path d="M280.6,580.4 L291,580.4 L291,585 Q285,586.5 280.6,584.5 Z" fill="#111"/><rect x="291" y="580" width="19" height="4" fill="#bbb" stroke="#111" stroke-width="1.1"/><path d="M309.4,578.8 L329,578.4 L330,581.5 L329,585.2 L309.4,585 Z" fill="#111"/><rect x="312" y="580" width="1.6" height="3.5" fill="#fff"/><path d="M181,567 Q181.5,561.5 187,561 L194.5,561.5 L195.5,572.5 L181.5,572.5 Z" fill="#111"/><rect x="184.5" y="567.5" width="3.2" height="3.5" fill="#fff"/><rect x="189.5" y="567.5" width="3.2" height="3.5" fill="#fff"/><ellipse cx="186.5" cy="580" rx="4" ry="3" fill="#111"/><path d="M205.5,561 L221,560.5 L226,563.5 L226,569.8 L215,570.5 L210,573 L205.5,570 Z" fill="#111"/><circle cx="214" cy="565.5" r="1.6" fill="#fff"/><rect x="226.3" y="561.2" width="6" height="8.5" fill="#fff" stroke="#111" stroke-width="1.3"/><path d="M236,561 Q233,565 236,570" fill="none" stroke="#111" stroke-width="1.5"/><rect x="619.6" y="565.5" width="12.399999999999931" height="6" rx="2" fill="#fff" stroke="#111" stroke-width="1.3"/><rect x="632.8" y="565.5" width="7.000000000000068" height="6" rx="2" fill="#fff" stroke="#111" stroke-width="1.3"/><rect x="640.6" y="565.5" width="12.399999999999931" height="6" rx="2" fill="#fff" stroke="#111" stroke-width="1.3"/><rect x="653.8" y="565.5" width="9.400000000000045" height="6" rx="2" fill="#fff" stroke="#111" stroke-width="1.3"/><rect x="664.0" y="565.5" width="8.800000000000022" height="6" rx="2" fill="#fff" stroke="#111" stroke-width="1.3"/><rect x="673.6" y="565.5" width="11.799999999999908" height="6" rx="2" fill="#fff" stroke="#111" stroke-width="1.3"/><rect x="686.1999999999999" y="565.5" width="9.400000000000045" height="6" rx="2" fill="#fff" stroke="#111" stroke-width="1.3"/><path d="M622.8,565.3 L622.8,561 Q627,558.5 631.2,561 L631.2,565.3 Z" fill="#111"/><circle cx="625.4" cy="562" r="0.9" fill="#fff"/><circle cx="628.6" cy="562" r="0.9" fill="#fff"/><path d="M673.1999999999999,565.3 L673.1999999999999,561 Q677.4,558.5 681.6,561 L681.6,565.3 Z" fill="#111"/><circle cx="675.8" cy="562" r="0.9" fill="#fff"/><circle cx="679.0" cy="562" r="0.9" fill="#fff"/><line x1="696" y1="559" x2="696" y2="578" stroke="#111" stroke-width="1.4" /><path d="M669.6,583 L680,583 L680,605 L672,605 L669.6,598 Z" fill="#111"/><rect x="641" y="578" width="11" height="8" fill="#111"/><path d="M751.5,567.3 L771.5,580.5 Q776.5,584.5 773,588.5 Q770,591.5 765.5,589 L743,574.5 Z" fill="#fff" stroke="#111" stroke-width="1.8" stroke-linejoin="round"/><path d="M736.1,554.3 L740.5,556.9 L745.7,557.0 L746.4,562.1 L749.6,566.2 L746.0,569.9 L744.8,574.9 L739.7,574.5 L735.0,576.7 L732.1,572.3 L727.5,570.1 L729.1,565.2 L728.0,560.1 L732.8,558.3 Z" fill="#111"/><path d="M726,572 L733,569 L736,577 L729,578 Z" fill="#111"/><circle cx="738.1" cy="565.6" r="3.9" fill="#fff"/><circle cx="749" cy="562" r="1" fill="#fff"/><rect x="352.5" y="549" width="7.5" height="27.5" rx="0" fill="#fff" stroke="#111" stroke-width="1.5" /><line x1="352.5" y1="555" x2="360" y2="555" stroke="#111" stroke-width="1.4" /><path d="M360,562 L370,562 L370,569 L360,569 Z" fill="#111"/><path d="M370.5,558 Q377,555.5 384.5,558 L385.5,565 L384.5,572.5 Q377,574.5 370.5,572.5 Z" fill="#111"/><ellipse cx="377.5" cy="565" rx="2.8" ry="3.4" fill="#fff"/><rect x="385" y="562.5" width="20" height="6" fill="#111"/><path d="M394,571 L402,571 L402.5,578 L401,584.5 L395,584.5 L394,578 Z" fill="#111"/><rect x="395.5" y="573" width="5" height="4" fill="#fff"/><path d="M531,559.4 L531,549.5 Q531,548.4 532,548.4 L537,548.4 Q538,548.4 538,549.5 L538,559.4" fill="#fff" stroke="#111" stroke-width="1.5"/><line x1="531" y1="554.5" x2="538" y2="554.5" stroke="#111" stroke-width="1.4" /><path d="M531,571.6 L531,577 L538,577 L538,571.6" fill="#fff" stroke="#111" stroke-width="1.5"/><ellipse cx="515" cy="558.5" rx="7" ry="2" fill="#111"/><ellipse cx="515" cy="571.5" rx="7" ry="2" fill="#111"/><rect x="421.5" y="596" width="48.5" height="54.5" rx="0" fill="#fff" stroke="#111" stroke-width="1.6" /><line x1="421.5" y1="650.2" x2="470" y2="650.2" stroke="#111" stroke-width="2.4" /><path d="M427,585.5 Q426,578 430,575.5 Q435,573 440,575 L443,571 L447,571 L450,575 Q456,575 458,580 L458,585.5 Z" fill="#111"/><path d="M425,591 L430,586 L461,586 L466,591 L467,602 L423,602 Z" fill="#c8c8c8" stroke="#111" stroke-width="1.7"/><path d="M426,590 L465,590" stroke="#111" stroke-width="2"/><rect x="436" y="586.3" width="8" height="4.5" fill="#fff"/><rect x="447" y="586.3" width="8" height="4.5" fill="#fff"/><path d="M423,597 L428,597 L428,602 L423,602 Z M462,597 L467,597 L467,602 L462,602 Z" fill="#111"/><path d="M440.5,602 L451.5,602 L451.5,618 L440.5,618 Z" fill="#fff" stroke="#111" stroke-width="1.4"/><path d="M440.5,634 L451,634 L451,646 L441,646 Z" fill="#fff" stroke="#111" stroke-width="1.4"/><rect x="437" y="617.5" width="17" height="16.5" rx="3" fill="#fff" stroke="#111" stroke-width="1.5"/><circle cx="444" cy="623.5" r="3" fill="#fff" stroke="#111" stroke-width="1.8"/><path d="M433.5,622 L437,622 M433.5,625 L437,625 M454,621.5 L457,621.5 M454,625.5 L457,625.5" stroke="#111" stroke-width="1.2"/><circle cx="429.5" cy="642" r="3.8" fill="#fff" stroke="#111" stroke-width="1.6"/><circle cx="461.5" cy="642" r="3.8" fill="#fff" stroke="#111" stroke-width="1.6"/><line x1="445.4" y1="150" x2="445.4" y2="659" stroke="#111" stroke-width="2.0" /><line x1="239" y1="122" x2="239" y2="657" stroke="#111" stroke-width="1.8" /><line x1="652" y1="122" x2="652" y2="657" stroke="#111" stroke-width="1.8" /><path d="M239,638.5 L242,642.4 L239,646.3 L236,642.4 Z" fill="#111"/><path d="M652,638.5 L655,642.4 L652,646.3 L649,642.4 Z" fill="#111"/><line x1="222.5" y1="629.1" x2="421.5" y2="629.1" stroke="#444" stroke-width="1.6" /><line x1="470" y1="629.1" x2="668" y2="629.1" stroke="#444" stroke-width="1.6" /><line x1="188" y1="651.8" x2="700" y2="651.8" stroke="#111" stroke-width="2.0" /><line x1="668" y1="651.2" x2="869" y2="651.2" stroke="#111" stroke-width="1.4" /><line x1="240" y1="84" x2="650" y2="84" stroke="#111" stroke-width="1.8" /><path d="M237.5,84.0 L254.5,79.9 L254.5,88.1 Z" fill="#111"/><path d="M651.6,84.0 L634.6,88.1 L634.6,79.9 Z" fill="#111"/><path d="M0,0.26 C0.45,0.24 0.8,0.12 0.92,0 L0.92,1" transform="matrix(6.000,0,0,19.000,414.500,54.000)" fill="none" stroke="#111" stroke-width="2.0" vector-effect="non-scaling-stroke" stroke-linecap="round" stroke-linejoin="round"/><path d="M0.04,0.24 C0.1,0.07 0.28,0 0.5,0 C0.76,0 0.94,0.11 0.94,0.26 C0.94,0.41 0.76,0.48 0.44,0.48 C0.8,0.48 1,0.58 1,0.74 C1,0.91 0.78,1 0.5,1 C0.24,1 0.05,0.91 0.0,0.72" transform="matrix(10.500,0,0,19.000,428.500,54.000)" fill="none" stroke="#111" stroke-width="2.0" vector-effect="non-scaling-stroke" stroke-linecap="round" stroke-linejoin="round"/><path d="M0.5,0 C0.78,0 1,0.22 1,0.5 C1,0.78 0.78,1 0.5,1 C0.22,1 0,0.78 0,0.5 C0,0.22 0.22,0 0.5,0 Z" transform="matrix(10.000,0,0,19.000,445.000,54.000)" fill="none" stroke="#111" stroke-width="2.0" vector-effect="non-scaling-stroke" stroke-linecap="round" stroke-linejoin="round"/><path d="M0.5,0 C0.78,0 1,0.22 1,0.5 C1,0.78 0.78,1 0.5,1 C0.22,1 0,0.78 0,0.5 C0,0.22 0.22,0 0.5,0 Z" transform="matrix(12.500,0,0,19.000,461.000,54.000)" fill="none" stroke="#111" stroke-width="2.0" vector-effect="non-scaling-stroke" stroke-linecap="round" stroke-linejoin="round"/><line x1="646" y1="119.7" x2="869" y2="119.7" stroke="#111" stroke-width="1.5" /><line x1="646.5" y1="120.2" x2="668" y2="120.2" stroke="#111" stroke-width="2.6" /><line x1="862.4" y1="121" x2="862.4" y2="289" stroke="#111" stroke-width="1.8" /><line x1="862.4" y1="446" x2="862.4" y2="648" stroke="#111" stroke-width="1.8" /><path d="M862.4,120.5 L866.5,135.5 L858.3,135.5 Z" fill="#111"/><path d="M862.4,650.0 L858.3,635.0 L866.5,635.0 Z" fill="#111"/><path d="M0,0.26 C0.45,0.24 0.8,0.12 0.92,0 L0.92,1" transform="matrix(5.400,0,0,19.500,357.400,91.500)" fill="none" stroke="#111" stroke-width="2.0" vector-effect="non-scaling-stroke" stroke-linecap="round" stroke-linejoin="round"/><line x1="352.5" y1="115.4" x2="370.4" y2="115.4" stroke="#111" stroke-width="1.9" /><line x1="352.5" y1="115.4" x2="337" y2="159.5" stroke="#111" stroke-width="1.9" /><path d="M337.0,159.5 L337.6,144.9 L345.7,147.7 Z" fill="#111"/><path d="M0.03,0.3 C0.03,0.1 0.22,0 0.5,0 C0.78,0 0.97,0.13 0.97,0.3 C0.97,0.5 0.75,0.58 0.45,0.72 C0.18,0.84 0.02,0.92 0.0,1.0 L1,1.0" transform="matrix(11.200,0,0,18.800,403.000,92.000)" fill="none" stroke="#111" stroke-width="2.0" vector-effect="non-scaling-stroke" stroke-linecap="round" stroke-linejoin="round"/><line x1="398.5" y1="115.4" x2="416.8" y2="115.4" stroke="#111" stroke-width="1.9" /><line x1="398.5" y1="115.4" x2="378.2" y2="164.8" stroke="#111" stroke-width="1.9" /><path d="M378.2,164.8 L379.5,150.2 L387.5,153.5 Z" fill="#111"/><path d="M0.04,0.24 C0.1,0.07 0.28,0 0.5,0 C0.76,0 0.94,0.11 0.94,0.26 C0.94,0.41 0.76,0.48 0.44,0.48 C0.8,0.48 1,0.58 1,0.74 C1,0.91 0.78,1 0.5,1 C0.24,1 0.05,0.91 0.0,0.72" transform="matrix(11.500,0,0,18.200,477.200,92.000)" fill="none" stroke="#111" stroke-width="2.0" vector-effect="non-scaling-stroke" stroke-linecap="round" stroke-linejoin="round"/><line x1="472" y1="115" x2="492" y2="115" stroke="#111" stroke-width="1.9" /><line x1="472" y1="115" x2="437" y2="151" stroke="#111" stroke-width="1.9" /><path d="M437.0,151.0 L443.7,138.0 L449.8,144.0 Z" fill="#111"/><path d="M0.76,1 L0.76,0 L0,0.7 L1,0.7" transform="matrix(11.500,0,0,18.000,551.500,92.500)" fill="none" stroke="#111" stroke-width="2.0" vector-effect="non-scaling-stroke" stroke-linecap="round" stroke-linejoin="round"/><line x1="546" y1="115.4" x2="564.7" y2="115.4" stroke="#111" stroke-width="1.9" /><line x1="546" y1="115.4" x2="521.3" y2="166" stroke="#111" stroke-width="1.9" /><path d="M521.3,166.0 L523.6,151.5 L531.3,155.3 Z" fill="#111"/><path d="M0.92,0 L0.14,0 L0.07,0.46 C0.2,0.37 0.35,0.34 0.52,0.34 C0.8,0.34 1,0.49 1,0.67 C1,0.88 0.78,1 0.5,1 C0.25,1 0.05,0.9 0.0,0.76" transform="matrix(11.500,0,0,17.500,593.500,91.200)" fill="none" stroke="#111" stroke-width="2.0" vector-effect="non-scaling-stroke" stroke-linecap="round" stroke-linejoin="round"/><line x1="589.5" y1="115.4" x2="604" y2="115.4" stroke="#111" stroke-width="1.9" /><line x1="604" y1="115.4" x2="658.8" y2="144.4" stroke="#111" stroke-width="1.9" /><path d="M658.8,144.4 L644.4,141.7 L648.4,134.1 Z" fill="#111"/><path d="M0.94,0.19 C0.86,0.06 0.72,0 0.54,0 C0.2,0 0.02,0.26 0.02,0.6 C0.02,0.86 0.22,1 0.5,1 C0.8,1 0.98,0.86 0.98,0.66 C0.98,0.46 0.8,0.34 0.52,0.34 C0.26,0.34 0.06,0.46 0.02,0.6" transform="matrix(11.800,0,0,19.600,799.800,330.000)" fill="none" stroke="#111" stroke-width="2.0" vector-effect="non-scaling-stroke" stroke-linecap="round" stroke-linejoin="round"/><line x1="793.2" y1="356.4" x2="811" y2="356.4" stroke="#111" stroke-width="1.9" /><line x1="793.2" y1="356.4" x2="660.8" y2="433.2" stroke="#111" stroke-width="1.9" /><path d="M660.8,433.2 L670.8,422.5 L675.1,429.9 Z" fill="#111"/><path d="M0,0 L1,0 C0.72,0.28 0.45,0.62 0.36,1" transform="matrix(12.200,0,0,20.300,799.500,490.500)" fill="none" stroke="#111" stroke-width="2.0" vector-effect="non-scaling-stroke" stroke-linecap="round" stroke-linejoin="round"/><line x1="793.1" y1="522.2" x2="810.7" y2="522.2" stroke="#111" stroke-width="1.9" /><line x1="793.1" y1="522.2" x2="661.6" y2="599.4" stroke="#111" stroke-width="1.9" /><path d="M661.6,599.4 L671.5,588.6 L675.9,596.0 Z" fill="#111"/><path d="M0.5,0 C0.76,0 0.93,0.1 0.93,0.25 C0.93,0.4 0.76,0.47 0.5,0.47 C0.24,0.47 0.07,0.4 0.07,0.25 C0.07,0.1 0.24,0 0.5,0 Z M0.5,0.47 C0.8,0.47 1,0.58 1,0.74 C1,0.9 0.8,1 0.5,1 C0.2,1 0,0.9 0,0.74 C0,0.58 0.2,0.47 0.5,0.47 Z" transform="matrix(10.900,0,0,19.000,799.500,579.600)" fill="none" stroke="#111" stroke-width="2.0" vector-effect="non-scaling-stroke" stroke-linecap="round" stroke-linejoin="round"/><line x1="793" y1="607" x2="811" y2="607" stroke="#111" stroke-width="1.9" /><line x1="793" y1="607" x2="663" y2="635.8" stroke="#111" stroke-width="1.9" /><path d="M663.0,635.8 L675.7,628.6 L677.6,637.0 Z" fill="#111"/><path d="M0,0.26 C0.45,0.24 0.8,0.12 0.92,0 L0.92,1" transform="matrix(5.000,0,0,19.250,203.000,672.000)" fill="none" stroke="#111" stroke-width="2.0" vector-effect="non-scaling-stroke" stroke-linecap="round" stroke-linejoin="round"/><path d="M0.03,0.3 C0.03,0.1 0.22,0 0.5,0 C0.78,0 0.97,0.13 0.97,0.3 C0.97,0.5 0.75,0.58 0.45,0.72 C0.18,0.84 0.02,0.92 0.0,1.0 L1,1.0" transform="matrix(11.250,0,0,19.250,217.250,672.000)" fill="none" stroke="#111" stroke-width="2.0" vector-effect="non-scaling-stroke" stroke-linecap="round" stroke-linejoin="round"/><line x1="206.8" y1="698.2" x2="223.6" y2="698.2" stroke="#111" stroke-width="1.9" /><line x1="206.8" y1="698.2" x2="160" y2="711.4" stroke="#111" stroke-width="1.9" /><path d="M160.0,711.4 L172.3,703.5 L174.6,711.7 Z" fill="#111"/><path d="M0,0.26 C0.45,0.24 0.8,0.12 0.92,0 L0.92,1" transform="matrix(5.500,0,0,19.800,546.000,672.000)" fill="none" stroke="#111" stroke-width="2.0" vector-effect="non-scaling-stroke" stroke-linecap="round" stroke-linejoin="round"/><path d="M0,0.26 C0.45,0.24 0.8,0.12 0.92,0 L0.92,1" transform="matrix(5.400,0,0,19.800,562.200,672.000)" fill="none" stroke="#111" stroke-width="2.0" vector-effect="non-scaling-stroke" stroke-linecap="round" stroke-linejoin="round"/><line x1="549.6" y1="698.6" x2="566.6" y2="698.6" stroke="#111" stroke-width="1.9" /><line x1="549.6" y1="698.6" x2="510" y2="717.5" stroke="#111" stroke-width="1.9" /><path d="M510.0,717.5 L520.8,707.6 L524.5,715.4 Z" fill="#111"/><path d="M0,0.26 C0.45,0.24 0.8,0.12 0.92,0 L0.92,1" transform="matrix(5.200,0,0,18.700,636.800,672.300)" fill="none" stroke="#111" stroke-width="2.0" vector-effect="non-scaling-stroke" stroke-linecap="round" stroke-linejoin="round"/><path d="M0.5,0 C0.78,0 1,0.22 1,0.5 C1,0.78 0.78,1 0.5,1 C0.22,1 0,0.78 0,0.5 C0,0.22 0.22,0 0.5,0 Z" transform="matrix(11.500,0,0,18.700,651.200,672.300)" fill="none" stroke="#111" stroke-width="2.0" vector-effect="non-scaling-stroke" stroke-linecap="round" stroke-linejoin="round"/><line x1="635" y1="698.3" x2="653.8" y2="698.3" stroke="#111" stroke-width="1.9" /><line x1="635" y1="698.3" x2="605.2" y2="739.3" stroke="#111" stroke-width="1.9" /><path d="M605.2,739.3 L610.0,725.4 L616.9,730.5 Z" fill="#111"/><path d="M0.06,0.81 C0.14,0.94 0.28,1 0.46,1 C0.8,1 0.98,0.74 0.98,0.4 C0.98,0.14 0.78,0 0.5,0 C0.2,0 0.02,0.14 0.02,0.34 C0.02,0.54 0.2,0.66 0.48,0.66 C0.74,0.66 0.94,0.54 0.98,0.4" transform="matrix(11.600,0,0,17.800,778.000,673.200)" fill="none" stroke="#111" stroke-width="2.0" vector-effect="non-scaling-stroke" stroke-linecap="round" stroke-linejoin="round"/><line x1="780.7" y1="698.3" x2="798.7" y2="698.3" stroke="#111" stroke-width="1.9" /><line x1="780.7" y1="698.3" x2="746.9" y2="740.6" stroke="#111" stroke-width="1.9" /><path d="M746.9,740.6 L752.3,727.0 L759.0,732.3 Z" fill="#111"/><rect x="147" y="686" width="12" height="205" rx="2" fill="#fff" stroke="#111" stroke-width="1.5"/><line x1="153" y1="700" x2="153" y2="888" stroke="#777" stroke-width="1" stroke-dasharray="3,2"/><path d="M148.5,688 L148.5,684 Q149,681.5 152,681.5 L155,681.5 Q158,681.5 158,684 L158,688 Z" fill="#fff" stroke="#111" stroke-width="1.5"/><rect x="145.6" y="688" width="14.4" height="21.6" rx="2" fill="#fff" stroke="#111" stroke-width="1.6"/><line x1="146" y1="693" x2="160" y2="693" stroke="#111" stroke-width="1.3" /><path d="M152.5,695 L154,703 L151,703 Z" fill="#111"/><path d="M145.6,700 L140,699.5 Q137.5,703 140,706.5 L145.6,706 Z" fill="#111"/><rect x="143.8" y="720.4" width="19.2" height="13.2" rx="2" fill="#fff" stroke="#111" stroke-width="1.6"/><line x1="153" y1="720.4" x2="153" y2="733.6" stroke="#111" stroke-width="1.2" /><path d="M143.8,721.6 L139,722 L136.5,725.2 L139,728.8 L143.8,728.8 Z" fill="#111"/><rect x="146" y="781" width="15" height="6" rx="2" fill="#fff" stroke="#111" stroke-width="1.4"/><rect x="146" y="823" width="14" height="10.5" rx="2" fill="#fff" stroke="#111" stroke-width="1.6"/><line x1="153" y1="823" x2="153" y2="833.5" stroke="#111" stroke-width="1.3" /><path d="M146,825 L139,825 Q134,828 137,833 L146,835 Z" fill="#111"/><path d="M144,834 L162,834 L163,846 L166,850 L162,853 L144,852 Z" fill="#111"/><path d="M147,837 L152,839 M154,837 L159,840 M147,843 L152,845 M154,844 L159,846" stroke="#fff" stroke-width="1" /><rect x="146.5" y="852.5" width="13" height="4.5" fill="#fff" stroke="#111" stroke-width="1.3"/><path d="M153,884 L154.5,888 L151.5,888 Z" fill="#111"/><rect x="163" y="719.2" width="344.5" height="12" fill="#fff" stroke="#111" stroke-width="1.5"/><line x1="165" y1="725.2" x2="506" y2="725.2" stroke="#999" stroke-width="1.1" /><rect x="170.8" y="716" width="6.5" height="18" rx="3" fill="#fff" stroke="#111" stroke-width="1.5"/><path d="M170.8,716 Q174.05,708.5 177.3,716 Z" fill="#111"/><path d="M170.8,733 L177.3,733 L177.3,735 Q174.05,737.5 170.8,735 Z" fill="#111"/><rect x="186.4" y="716" width="6.5" height="18" rx="3" fill="#fff" stroke="#111" stroke-width="1.5"/><path d="M186.4,716 Q189.65,708.5 192.9,716 Z" fill="#111"/><path d="M186.4,733 L192.9,733 L192.9,735 Q189.65,737.5 186.4,735 Z" fill="#111"/><path d="M507.5,719 Q513,717 517,720 L519,726 L517,731 Q512,734 507.5,730.5 Z" fill="#111"/><rect x="517" y="723" width="14" height="4.5" fill="#fff" stroke="#111" stroke-width="1.3"/><rect x="530.5" y="718.5" width="7.5" height="13.5" rx="3" fill="#fff" stroke="#111" stroke-width="1.6"/><line x1="530.5" y1="725.2" x2="538" y2="725.2" stroke="#111" stroke-width="1.3" /><rect x="733" y="714" width="10.5" height="197" rx="2" fill="#fff" stroke="#111" stroke-width="1.5"/><line x1="738.5" y1="716" x2="738.5" y2="908" stroke="#777" stroke-width="1" stroke-dasharray="3,2"/><path d="M734,714 L734,704 Q734,701 737,701 L740.5,701 Q743.5,701 743.5,704 L743.5,714 Z" fill="#fff" stroke="#111" stroke-width="1.5"/><line x1="734" y1="706" x2="743.5" y2="706" stroke="#111" stroke-width="1.3" /><rect x="731.5" y="713" width="14" height="16" rx="2" fill="#fff" stroke="#111" stroke-width="1.6"/><path d="M738.5,716 L740,725 L737,725 Z" fill="#111"/><path d="M745.5,719 L750,718 Q753,722 750,727 L745.5,726 Z" fill="#111"/><path d="M386,739 L733,739 L733,750 L386,750 Q382,744.5 386,739 Z" fill="#fff" stroke="#111" stroke-width="1.5"/><line x1="384" y1="744.5" x2="733" y2="744.5" stroke="#111" stroke-width="1.4" /><path d="M372,739.5 Q378,737 384,740 Q381,744.5 384,749 Q378,752 372,749.5 Z" fill="#111"/><rect x="359" y="742.3" width="13.5" height="4.4" fill="#fff" stroke="#111" stroke-width="1.3"/><rect x="352.5" y="737.5" width="7" height="14.5" rx="2" fill="#fff" stroke="#111" stroke-width="1.8"/><line x1="352.5" y1="744.5" x2="359.5" y2="744.5" stroke="#111" stroke-width="1.4" /><rect x="697" y="736" width="7" height="18" rx="3" fill="#fff" stroke="#111" stroke-width="1.5"/><path d="M697,738 Q700.5,728 704,738 Z" fill="#111"/><path d="M697,752 L704,752 L704,754 Q700.5,758 697,754 Z" fill="#111"/><rect x="713" y="736" width="7" height="18" rx="3" fill="#fff" stroke="#111" stroke-width="1.5"/><path d="M713,738 Q716.5,728 720,738 Z" fill="#111"/><path d="M713,752 L720,752 L720,754 Q716.5,758 713,754 Z" fill="#111"/><rect x="730" y="738.5" width="14" height="14" rx="2" fill="#fff" stroke="#111" stroke-width="1.6"/><path d="M744,740 L750,741 Q753,745 750,750 L744,751 Z" fill="#111"/><rect x="729" y="775.5" width="19" height="15" rx="2" fill="#111"/><rect x="731" y="780" width="6" height="5" fill="#fff"/><rect x="740" y="780" width="6" height="5" fill="#fff"/><rect x="720" y="783.5" width="9" height="3.5" rx="1.5" fill="#fff" stroke="#111" stroke-width="1.2"/><path d="M729,790 L748,790 L748,810 L729,810 Z" fill="#111"/><path d="M731,794 L746,796 M731,800 L746,802 M731,806 L746,807" stroke="#fff" stroke-width="0.9"/><rect x="731" y="809" width="14" height="8.5" rx="2" fill="#fff" stroke="#111" stroke-width="1.6"/><line x1="738.5" y1="809" x2="738.5" y2="817.5" stroke="#111" stroke-width="1.2" /><path d="M745,808 L752,809 Q757,813 754,818 L745,818 Z" fill="#111"/><rect x="730" y="855.5" width="16" height="13.5" rx="2" fill="#fff" stroke="#111" stroke-width="1.5"/><rect x="746" y="855.5" width="28" height="3.5" fill="#fff" stroke="#111" stroke-width="1.2"/><path d="M730,860 L724,860 Q721,864 724,868 L730,868 Z" fill="#111"/><path d="M738.5,904 L740,908 L737,908 Z" fill="#111"/><line x1="113" y1="725" x2="146" y2="725" stroke="#111" stroke-width="1.4" /><line x1="113" y1="821.6" x2="420" y2="821.6" stroke="#333" stroke-width="1.5" /><line x1="121.2" y1="727" x2="121.2" y2="819" stroke="#111" stroke-width="1.6" /><path d="M121.0,725.0 L125.1,740.0 L116.9,740.0 Z" fill="#111"/><path d="M121.2,821.3 L117.1,806.3 L125.3,806.3 Z" fill="#111"/><path d="M0.03,0.3 C0.03,0.1 0.22,0 0.5,0 C0.78,0 0.97,0.13 0.97,0.3 C0.97,0.5 0.75,0.58 0.45,0.72 C0.18,0.84 0.02,0.92 0.0,1.0 L1,1.0" transform="matrix(0,-12.000,17.900,0,87.700,797.800)" fill="none" stroke="#111" stroke-width="2.0" vector-effect="non-scaling-stroke" stroke-linecap="round" stroke-linejoin="round"/><path d="M0.06,0.81 C0.14,0.94 0.28,1 0.46,1 C0.8,1 0.98,0.74 0.98,0.4 C0.98,0.14 0.78,0 0.5,0 C0.2,0 0.02,0.14 0.02,0.34 C0.02,0.54 0.2,0.66 0.48,0.66 C0.74,0.66 0.94,0.54 0.98,0.4" transform="matrix(0,-12.000,17.900,0,87.700,781.000)" fill="none" stroke="#111" stroke-width="2.0" vector-effect="non-scaling-stroke" stroke-linecap="round" stroke-linejoin="round"/><path d="M0.5,0 C0.78,0 1,0.22 1,0.5 C1,0.78 0.78,1 0.5,1 C0.22,1 0,0.78 0,0.5 C0,0.22 0.22,0 0.5,0 Z" transform="matrix(0,-12.400,17.900,0,87.700,764.600)" fill="none" stroke="#111" stroke-width="2.0" vector-effect="non-scaling-stroke" stroke-linecap="round" stroke-linejoin="round"/><line x1="745" y1="744.5" x2="805.4" y2="744.5" stroke="#111" stroke-width="1.4" /><line x1="470" y1="821.7" x2="805.4" y2="821.7" stroke="#111" stroke-width="1.4" /><line x1="795" y1="744.5" x2="795" y2="821.7" stroke="#111" stroke-width="1.4" /><path d="M795.0,744.5 L799.1,759.5 L790.9,759.5 Z" fill="#111"/><path d="M795.0,821.7 L790.9,806.7 L799.1,806.7 Z" fill="#111"/><path d="M0.03,0.3 C0.03,0.1 0.22,0 0.5,0 C0.78,0 0.97,0.13 0.97,0.3 C0.97,0.5 0.75,0.58 0.45,0.72 C0.18,0.84 0.02,0.92 0.0,1.0 L1,1.0" transform="matrix(0,-12.100,18.700,0,765.800,802.100)" fill="none" stroke="#111" stroke-width="2.0" vector-effect="non-scaling-stroke" stroke-linecap="round" stroke-linejoin="round"/><path d="M0.04,0.24 C0.1,0.07 0.28,0 0.5,0 C0.76,0 0.94,0.11 0.94,0.26 C0.94,0.41 0.76,0.48 0.44,0.48 C0.8,0.48 1,0.58 1,0.74 C1,0.91 0.78,1 0.5,1 C0.24,1 0.05,0.91 0.0,0.72" transform="matrix(0,-12.000,18.700,0,765.800,786.000)" fill="none" stroke="#111" stroke-width="2.0" vector-effect="non-scaling-stroke" stroke-linecap="round" stroke-linejoin="round"/><path d="M0.5,0 C0.78,0 1,0.22 1,0.5 C1,0.78 0.78,1 0.5,1 C0.22,1 0,0.78 0,0.5 C0,0.22 0.22,0 0.5,0 Z" transform="matrix(0,-12.400,18.700,0,765.800,768.900)" fill="none" stroke="#111" stroke-width="2.0" vector-effect="non-scaling-stroke" stroke-linecap="round" stroke-linejoin="round"/><line x1="510.75" y1="834" x2="510.75" y2="888" stroke="#111" stroke-width="1.6" /><line x1="510.75" y1="888" x2="510.75" y2="935" stroke="#888" stroke-width="1.6" /><line x1="467" y1="888.6" x2="517.5" y2="888.6" stroke="#888" stroke-width="1.6" /><path d="M510.8,832.5 L514.9,847.5 L506.6,847.5 Z" fill="#111"/><path d="M510.8,886.0 L506.6,871.0 L514.9,871.0 Z" fill="#111"/><path d="M0.03,0.3 C0.03,0.1 0.22,0 0.5,0 C0.78,0 0.97,0.13 0.97,0.3 C0.97,0.5 0.75,0.58 0.45,0.72 C0.18,0.84 0.02,0.92 0.0,1.0 L1,1.0" transform="matrix(0,-12.000,18.300,0,485.800,943.900)" fill="none" stroke="#111" stroke-width="2.0" vector-effect="non-scaling-stroke" stroke-linecap="round" stroke-linejoin="round"/><path d="M0.5,0 C0.78,0 1,0.22 1,0.5 C1,0.78 0.78,1 0.5,1 C0.22,1 0,0.78 0,0.5 C0,0.22 0.22,0 0.5,0 Z" transform="matrix(0,-12.000,18.300,0,485.800,926.700)" fill="none" stroke="#111" stroke-width="2.0" vector-effect="non-scaling-stroke" stroke-linecap="round" stroke-linejoin="round"/><path d="M0.5,0 C0.78,0 1,0.22 1,0.5 C1,0.78 0.78,1 0.5,1 C0.22,1 0,0.78 0,0.5 C0,0.22 0.22,0 0.5,0 Z" transform="matrix(0,-12.000,18.300,0,485.800,909.600)" fill="none" stroke="#111" stroke-width="2.0" vector-effect="non-scaling-stroke" stroke-linecap="round" stroke-linejoin="round"/><line x1="313" y1="791.6" x2="622" y2="791.6" stroke="#111" stroke-width="1.6" /><line x1="262" y1="851.6" x2="622" y2="851.6" stroke="#111" stroke-width="1.6" /><line x1="190.6" y1="791" x2="190.6" y2="852" stroke="#111" stroke-width="1.3" stroke-dasharray="9,3,2,3"/><line x1="699.8" y1="791" x2="699.8" y2="852" stroke="#111" stroke-width="1.3" stroke-dasharray="9,3,2,3"/><circle cx="388.4" cy="803.6" r="2.8" fill="#fff" stroke="#111" stroke-width="1.4"/><circle cx="468" cy="804.8" r="2.8" fill="#fff" stroke="#111" stroke-width="1.4"/><circle cx="503.2" cy="804.8" r="2.8" fill="#fff" stroke="#111" stroke-width="1.4"/><circle cx="547.2" cy="804.8" r="2.8" fill="#fff" stroke="#111" stroke-width="1.4"/><circle cx="388.4" cy="838.8" r="2.8" fill="#fff" stroke="#111" stroke-width="1.4"/><circle cx="468" cy="838.4" r="2.8" fill="#fff" stroke="#111" stroke-width="1.4"/><circle cx="547.2" cy="837" r="2.8" fill="#fff" stroke="#111" stroke-width="1.4"/><line x1="420.8" y1="802" x2="424.8" y2="802" stroke="#111" stroke-width="1.4" /><line x1="420.8" y1="841" x2="424.8" y2="841" stroke="#111" stroke-width="1.4" /><path d="M262,814.8 L414,814.8 M262,828.4 L414,828.4" stroke="#111" stroke-width="1.5"/><line x1="262" y1="821.5" x2="460" y2="821.5" stroke="#666" stroke-width="1.1" /><path d="M628,814.4 L471,814.4 Q467,815.5 463,821.8 Q467,827.5 471,828.4 L628,828.4" fill="#fff" stroke="#111" stroke-width="1.5"/><line x1="464" y1="821.5" x2="628" y2="821.5" stroke="#666" stroke-width="1.1" /><path d="M330,793.5 L413.5,810.8 L413,813.2 L372,813 L330,801.5 Z" fill="#fff" stroke="#111" stroke-width="1.5"/><path d="M313,791.5 L330,792.5 L333,801.5 L313,800 Z" fill="#111"/><circle cx="332" cy="797" r="3" fill="#fff" stroke="#111" stroke-width="1.4"/><path d="M292,784.5 L313,789 L311.5,801 L292,796.5 Z" fill="#fff" stroke="#111" stroke-width="1.6"/><path d="M271.7,791.7 L283,782 Q288,780.5 291,783 L294,787 L292,796.6 L278,803.6 Z" fill="#fff" stroke="#111" stroke-width="1.7"/><circle cx="287.1" cy="789.6" r="2.6" fill="#fff" stroke="#111" stroke-width="2"/><path d="M454,829.3 L496,829 L637.6,864 L636,868.5 Z" fill="#fff" stroke="#111" stroke-width="1.5" stroke-linejoin="round"/><path d="M634,862 L655,866 L654,872 L633,869 Z" fill="#111"/><path d="M330,810 Q336,806 342.5,810 L342.5,842 L333,842 L333,849.5 L330,849.5 Z" fill="#111"/><rect x="333" y="814.5" width="6.5" height="11" fill="#fff"/><rect x="333.5" y="830" width="2.2" height="3" fill="#fff"/><rect x="337" y="830" width="2.2" height="3" fill="#fff"/><rect x="333.5" y="835" width="2.2" height="3" fill="#fff"/><rect x="337" y="835" width="2.2" height="3" fill="#fff"/><path d="M576.5,810 Q582.5,806 589.0,810 L589.0,842 L579.5,842 L579.5,849.5 L576.5,849.5 Z" fill="#111"/><rect x="579.5" y="814.5" width="6.5" height="11" fill="#fff"/><rect x="580.0" y="830" width="2.2" height="3" fill="#fff"/><rect x="583.5" y="830" width="2.2" height="3" fill="#fff"/><rect x="580.0" y="835" width="2.2" height="3" fill="#fff"/><rect x="583.5" y="835" width="2.2" height="3" fill="#fff"/><circle cx="344" cy="838.8" r="3" fill="#fff" stroke="#111" stroke-width="1.5"/><ellipse cx="238.2" cy="821.2" rx="39.5" ry="43" fill="#fff" stroke="#111" stroke-width="1.8"/><ellipse cx="238.2" cy="821.2" rx="34" ry="38" fill="#fff" stroke="#111" stroke-width="1.5"/><circle cx="266.5" cy="795.2" r="3.3" fill="#fff" stroke="#111" stroke-width="1.5"/><circle cx="209.9" cy="795.2" r="3.3" fill="#fff" stroke="#111" stroke-width="1.5"/><circle cx="209.9" cy="847.2" r="3.3" fill="#fff" stroke="#111" stroke-width="1.5"/><circle cx="266.5" cy="847.2" r="3.3" fill="#fff" stroke="#111" stroke-width="1.5"/><path d="M222.2,804.2 L231.2,799.2 L245.2,799.2 L254.2,804.2 L258.7,814.2 L258.7,828.2 L254.2,838.2 L245.2,843.2 L231.2,843.2 L222.2,838.2 L217.7,828.2 L217.7,814.2 Z" fill="#fff" stroke="#111" stroke-width="4.2" stroke-linejoin="round"/><circle cx="238.2" cy="821.2" r="18.5" fill="#fff" stroke="#111" stroke-width="1.4"/><circle cx="222.0" cy="804.4000000000001" r="5.3" fill="#111"/><circle cx="222.0" cy="804.4000000000001" r="2.3" fill="#fff"/><circle cx="222.0" cy="838.0" r="5.3" fill="#111"/><circle cx="222.0" cy="838.0" r="2.3" fill="#fff"/><circle cx="254.39999999999998" cy="804.4000000000001" r="5.3" fill="#111"/><circle cx="254.39999999999998" cy="804.4000000000001" r="2.3" fill="#fff"/><circle cx="254.39999999999998" cy="838.0" r="5.3" fill="#111"/><circle cx="254.39999999999998" cy="838.0" r="2.3" fill="#fff"/><path d="M210.7,810.7 L220.2,809.7 L220.2,832.2 L210.7,831.7 Z" fill="#fff" stroke="#111" stroke-width="1.4"/><path d="M256.2,809.7 L269.2,810.7 L269.2,831.7 L256.2,832.2 Z" fill="#fff" stroke="#111" stroke-width="1.4"/><line x1="211.2" y1="821.2" x2="269.2" y2="821.2" stroke="#666" stroke-width="1.1" /><circle cx="238.2" cy="821.2" r="4.6" fill="#fff" stroke="#111" stroke-width="2.4"/><ellipse cx="652.4" cy="821.2" rx="39.5" ry="43" fill="#fff" stroke="#111" stroke-width="1.8"/><ellipse cx="652.4" cy="821.2" rx="34" ry="38" fill="#fff" stroke="#111" stroke-width="1.5"/><circle cx="680.7" cy="795.2" r="3.3" fill="#fff" stroke="#111" stroke-width="1.5"/><circle cx="624.1" cy="795.2" r="3.3" fill="#fff" stroke="#111" stroke-width="1.5"/><circle cx="624.1" cy="847.2" r="3.3" fill="#fff" stroke="#111" stroke-width="1.5"/><circle cx="680.7" cy="847.2" r="3.3" fill="#fff" stroke="#111" stroke-width="1.5"/><path d="M636.4,804.2 L645.4,799.2 L659.4,799.2 L668.4,804.2 L672.9,814.2 L672.9,828.2 L668.4,838.2 L659.4,843.2 L645.4,843.2 L636.4,838.2 L631.9,828.2 L631.9,814.2 Z" fill="#fff" stroke="#111" stroke-width="4.2" stroke-linejoin="round"/><circle cx="652.4" cy="821.2" r="18.5" fill="#fff" stroke="#111" stroke-width="1.4"/><circle cx="636.1999999999999" cy="804.4000000000001" r="5.3" fill="#111"/><circle cx="636.1999999999999" cy="804.4000000000001" r="2.3" fill="#fff"/><circle cx="636.1999999999999" cy="838.0" r="5.3" fill="#111"/><circle cx="636.1999999999999" cy="838.0" r="2.3" fill="#fff"/><circle cx="668.6" cy="804.4000000000001" r="5.3" fill="#111"/><circle cx="668.6" cy="804.4000000000001" r="2.3" fill="#fff"/><circle cx="668.6" cy="838.0" r="5.3" fill="#111"/><circle cx="668.6" cy="838.0" r="2.3" fill="#fff"/><path d="M624.9,810.7 L634.4,809.7 L634.4,832.2 L624.9,831.7 Z" fill="#fff" stroke="#111" stroke-width="1.4"/><path d="M670.4,809.7 L683.4,810.7 L683.4,831.7 L670.4,832.2 Z" fill="#fff" stroke="#111" stroke-width="1.4"/><line x1="625.4" y1="821.2" x2="683.4" y2="821.2" stroke="#666" stroke-width="1.1" /><circle cx="652.4" cy="821.2" r="4.6" fill="#fff" stroke="#111" stroke-width="2.4"/><rect x="268" y="814.8" width="14" height="13.6" fill="#fff"/><path d="M266,814.8 L283,814.8 M266,828.4 L283,828.4" stroke="#111" stroke-width="1.5"/><line x1="266" y1="821.5" x2="283" y2="821.5" stroke="#666" stroke-width="1.1" /><rect x="609" y="814.4" width="15" height="14" fill="#fff"/><path d="M608,814.4 L625,814.4 M608,828.4 L625,828.4" stroke="#111" stroke-width="1.5"/><line x1="608" y1="821.5" x2="625" y2="821.5" stroke="#666" stroke-width="1.1" /><rect x="182" y="810" width="24" height="23" rx="2" fill="#fff" stroke="#111" stroke-width="1.5"/><circle cx="186.4" cy="814.6" r="2.4" fill="#fff" stroke="#111" stroke-width="1.4"/><circle cx="199.6" cy="814.6" r="2.4" fill="#fff" stroke="#111" stroke-width="1.4"/><circle cx="186.4" cy="829" r="2.4" fill="#fff" stroke="#111" stroke-width="1.4"/><circle cx="199.6" cy="829" r="2.4" fill="#fff" stroke="#111" stroke-width="1.4"/><line x1="182" y1="821.5" x2="206" y2="821.5" stroke="#666" stroke-width="1.1" /><path d="M192,765 L211,782.5 L204.5,794.5 L184.5,775 Q181,768.5 186,765.5 Q189,764 192,765 Z" fill="#fff" stroke="#111" stroke-width="1.7"/><circle cx="191" cy="772.5" r="2.6" fill="#fff" stroke="#111" stroke-width="1.6"/><ellipse cx="217" cy="781.5" rx="4.5" ry="3.5" fill="#111"/><ellipse cx="217.5" cy="782" rx="1.8" ry="1.2" fill="#fff"/><path d="M655,872.4 L669.6,861 L680.8,856.4 Q688,859.5 690,869 Q689.5,879 683,880.5 L674,878.5 Z" fill="#fff" stroke="#111" stroke-width="1.6" stroke-linejoin="round"/><circle cx="682.4" cy="872.4" r="3.1" fill="#fff" stroke="#111" stroke-width="2"/><path d="M689.7,787.3 L689.7,781.8 Q690,778.3 694,778.3 Q698.8,778.3 698.8,782.3 L698.8,787.3 Z" fill="#111"/><rect x="692" y="781.3" width="3.6" height="4" rx="1.2" fill="#fff"/><path d="M689.7,865.3 L689.7,859.8 Q690,856.3 694,856.3 Q698.8,856.3 698.8,860.3 L698.8,865.3 Z" fill="#111"/><rect x="692" y="859.3" width="3.6" height="4" rx="1.2" fill="#fff"/><ellipse cx="674" cy="781" rx="4.5" ry="3.6" fill="#111"/><ellipse cx="674.5" cy="781.5" rx="1.8" ry="1.2" fill="#fff"/><rect x="422.6" y="852" width="47.4" height="54.6" rx="0" fill="#fff" stroke="#111" stroke-width="1.5" /><path d="M430,868 L462,868 Q466,868 466,872 L466,903 Q466,907 462,907 L430,907 Q426,907 426,903 L426,872 Q426,868 430,868 Z" fill="#fff" stroke="#111" stroke-width="1.6"/><line x1="422.6" y1="859" x2="470" y2="859" stroke="#111" stroke-width="1.3" /><circle cx="430.4" cy="872" r="3.8" fill="#fff" stroke="#111" stroke-width="2.2"/><circle cx="461.4" cy="872" r="3.8" fill="#fff" stroke="#111" stroke-width="2.2"/><circle cx="430.4" cy="903" r="3.8" fill="#fff" stroke="#111" stroke-width="2.2"/><circle cx="461.4" cy="903" r="3.8" fill="#fff" stroke="#111" stroke-width="2.2"/><path d="M225.4,865 L356,876.3 L356,884.5 L225.4,875.2 Z" fill="#fff" stroke="#111" stroke-width="1.6"/><line x1="227" y1="870.5" x2="354" y2="880.8" stroke="#777" stroke-width="1.0" /><path d="M212.2,859 L225.4,860.5 L225.6,873.5 L212.5,872.5 Z" fill="#111"/><rect x="215.5" y="862" width="3" height="3" fill="#fff"/><rect x="220" y="866" width="2.5" height="4" fill="#fff"/><path d="M354,876.5 L370,878 L370,884 L354,884.5 Z" fill="#fff" stroke="#111" stroke-width="1.4"/><path d="M357,877 L360,877 L360,884 L357,884 Z" fill="#111"/><path d="M370,878.5 Q385,874.5 400,877.5 L428,881 L428,890 L400,890 Q385,893 370,884 Z" fill="#fff" stroke="#111" stroke-width="1.6"/><circle cx="397.8" cy="883.4" r="4" fill="#fff" stroke="#111" stroke-width="2.8"/><rect x="427" y="877" width="21" height="14" rx="2" fill="#fff" stroke="#111" stroke-width="1.5"/><circle cx="435.5" cy="883.5" r="3.2" fill="#fff" stroke="#111" stroke-width="1.6"/><circle cx="445" cy="883.5" r="2.6" fill="#fff" stroke="#111" stroke-width="1.5"/><path d="M184,861 L211,861.5 L212,874.5 L184,874.6 Q179.5,868 184,861 Z" fill="#fff" stroke="#111" stroke-width="1.6"/><circle cx="187.6" cy="867.4" r="3" fill="#fff" stroke="#111" stroke-width="2.2"/><line x1="184.6" y1="861" x2="196" y2="849.5" stroke="#111" stroke-width="1.5" />
</svg></body></html>
